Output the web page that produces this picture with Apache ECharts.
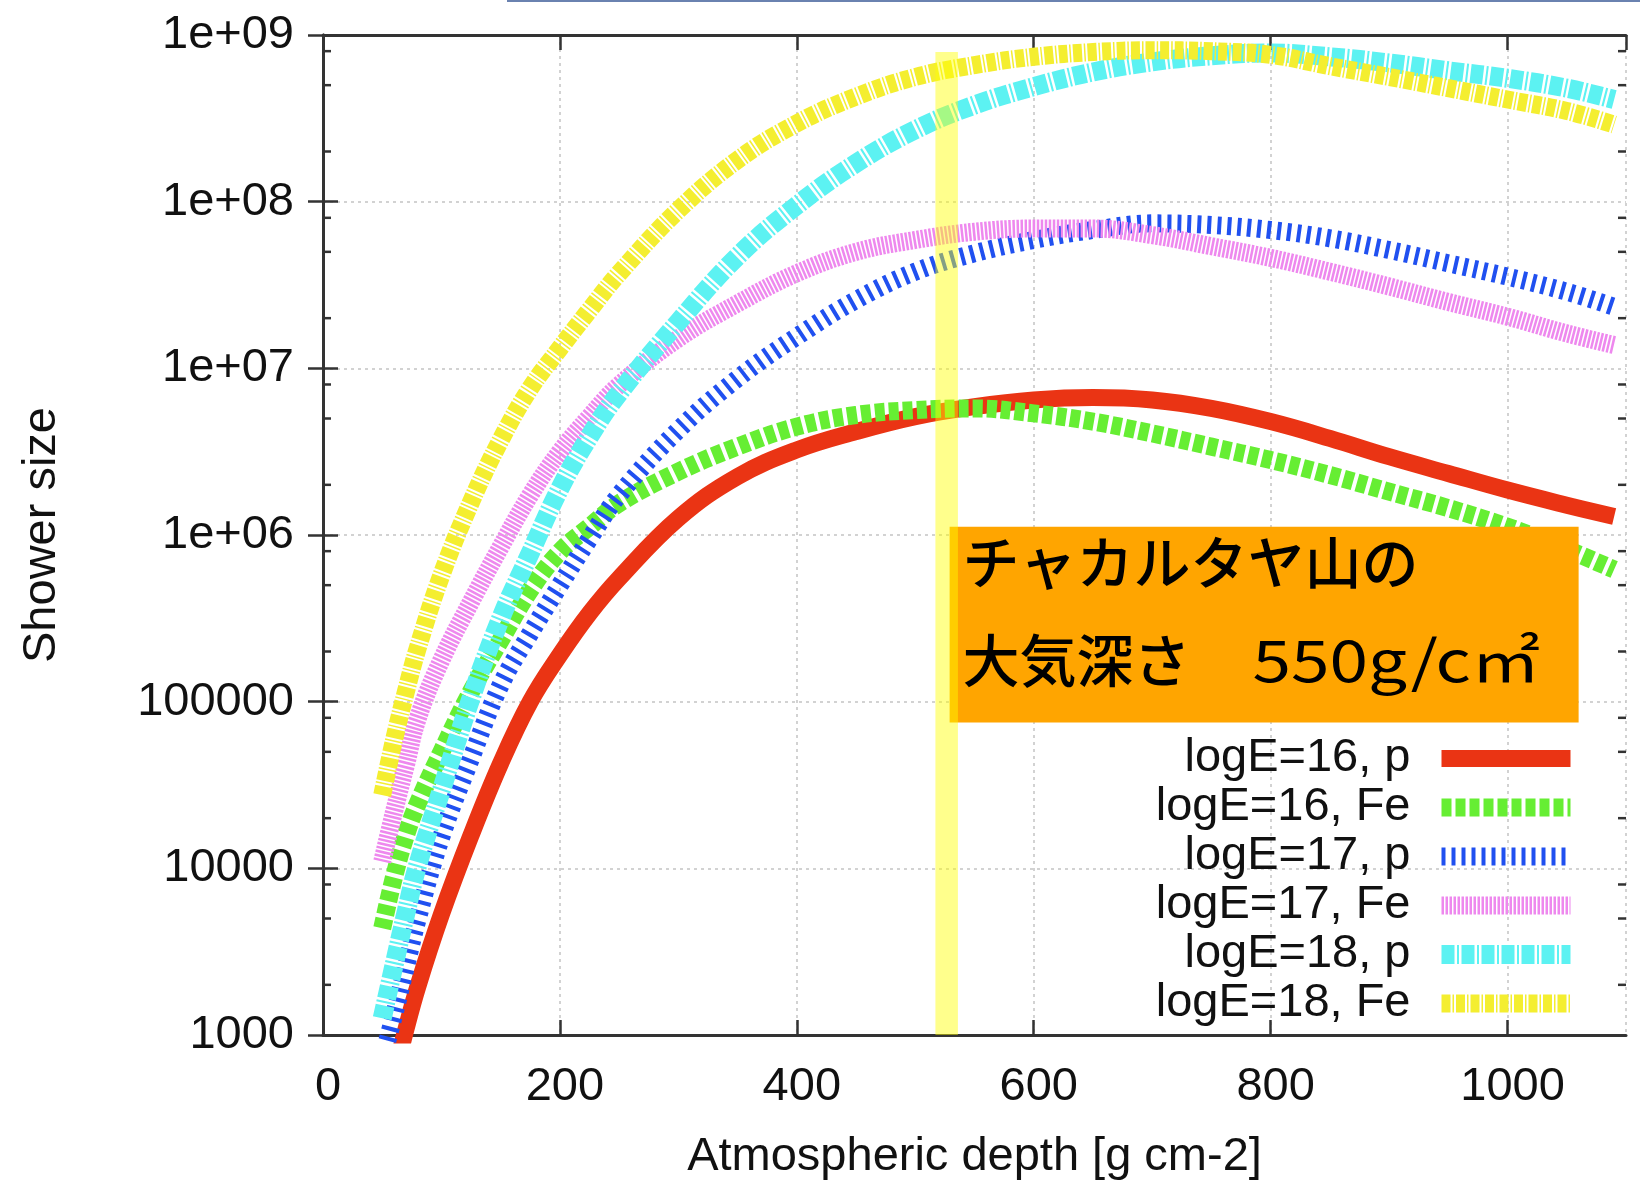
<!DOCTYPE html>
<html><head><meta charset="utf-8">
<script src="https://cdn.jsdelivr.net/npm/echarts@6/dist/echarts.min.js"></script>
<style>html,body{margin:0;padding:0;background:#fff}#chart{width:1640px;height:1189px}</style>
</head><body><div id="chart"></div>
<script>
// ---- data ----
const depth = [50,60,70,80,100,125,150,175,200,225,250,300,350,400,450,500,550,600,650,700,750,800,850,900,950,1000,1050,1090];
const e16p  = [2.8e2,5.6e2,1.08e3,1.95e3,5.3e3,1.58e4,4.27e4,1.0e5,1.91e5,3.39e5,5.5e5,1.26e6,2.24e6,3.24e6,4.17e6,5.13e6,5.89e6,6.46e6,6.68e6,6.46e6,5.75e6,4.79e6,3.8e6,2.95e6,2.34e6,1.86e6,1.51e6,1.29e6];
const e16fe = [4.37e3,8.9e3,1.58e4,2.45e4,5.0e4,1.15e5,2.34e5,4.68e5,7.94e5,1.12e6,1.55e6,2.4e6,3.39e6,4.47e6,5.25e6,5.62e6,5.75e6,5.37e6,4.79e6,4.07e6,3.39e6,2.82e6,2.29e6,1.82e6,1.45e6,1.12e6,8.2e5,6.2e5];
const e17p  = [7.1e2,1.32e3,2.57e3,5.0e3,1.55e4,4.57e4,1.26e5,2.57e5,5.0e5,9.5e5,1.74e6,4.27e6,8.7e6,1.55e7,2.57e7,3.8e7,4.9e7,5.89e7,6.76e7,7.41e7,7.24e7,6.76e7,6.03e7,5.13e7,4.27e7,3.55e7,2.88e7,2.34e7];
const e17fe = [1.1e4,2.19e4,4.17e4,7.94e4,1.78e5,3.98e5,8.5e5,1.74e6,3.16e6,5.13e6,7.94e6,1.51e7,2.45e7,3.72e7,5.0e7,5.89e7,6.6e7,6.9e7,6.9e7,6.3e7,5.4e7,4.6e7,3.8e7,3.1e7,2.5e7,2.04e7,1.62e7,1.38e7];
const e18p  = [1.26e3,2.63e3,5.4e3,1.05e4,2.95e4,1.05e5,3.16e5,7.8e5,1.9e6,3.9e6,7.1e6,1.9e7,4.7e7,9.5e7,1.7e8,2.7e8,3.8e8,4.9e8,6.0e8,6.9e8,7.5e8,7.8e8,7.4e8,6.8e8,6.1e8,5.5e8,4.8e8,4.1e8];
const e18fe = [2.75e4,5.9e4,1.15e5,2.1e5,5.75e5,1.58e6,3.72e6,7.6e6,1.32e7,2.24e7,3.72e7,8.9e7,1.78e8,2.95e8,4.27e8,5.6e8,6.6e8,7.4e8,7.9e8,8.1e8,8.0e8,7.6e8,6.5e8,5.6e8,4.8e8,4.1e8,3.5e8,2.9e8];
const seriesNames = ['logE=16, p','logE=16, Fe','logE=17, p','logE=17, Fe','logE=18, p','logE=18, Fe'];
const seriesValues = [e16p, e16fe, e17p, e17fe, e18p, e18fe];
const xTickLabels = ['0','200','400','600','800','1000'];
const yTickLabels = ['1000','10000','100000','1e+06','1e+07','1e+08','1e+09'];
const yMinorTicks = [2e3,5e3,8e3,2e4,5e4,8e4,2e5,5e5,8e5,2e6,5e6,8e6,2e7,5e7,8e7,2e8,5e8,8e8];
const bandRange = [517, 7.9e8, 536, 1000];
const noteRange = [529, 1.12e6, 1060, 7.5e4];
const noteLine1 = 'チャカルタヤ山の';
const noteLine2a = '大気深さ';
const noteLine2b = '550g/c㎡';
const xName = 'Atmospheric depth [g cm-2]';
const yName = 'Shower size';

// ---- styles ----
const LATIN = 'Liberation Sans';
const CJK = 'Noto Sans CJK JP';
const styles = [
  {color:'#ea3414', width:17, type:'solid'},
  {color:'#66ee33', width:18, type:[10,4]},
  {color:'#2050f0', width:18, type:[4,6]},
  {color:'#ee88ee', width:18, type:[2.5,1.5]},
  {color:'#5cf2f2', width:19, type:[13,2.5,2,2.5]},
  {color:'#f4ee30', width:18, type:[9,2,1.5,2]}
];
const axisColor = '#333';
const XMIN = 0, XMAX = 1100;

const lineSeries = seriesNames.map((name, k) => ({
  name, type:'line', symbol:'none', smooth:0.4, z:2,
  data: depth.map((x, i) => [x, seriesValues[k][i]]),
  lineStyle: {color:styles[k].color, width:styles[k].width, type:styles[k].type, cap:'butt', join:'round'},
  itemStyle: {color:styles[k].color},
  emphasis: {disabled:true}
}));

// stretch factor for the Latin part of note line 2
const NOTE_WEIGHT = 500;
const mctx = document.createElement('canvas').getContext('2d');
mctx.font = NOTE_WEIGHT + ' 57px "' + CJK + '"';
const latinScale = 292 / mctx.measureText(noteLine2b).width;

const noteSeries = {
  type:'custom', name:'note', z:5, silent:true, clip:false,
  data:[noteRange], encode:{x:[0,2], y:[1,3]},
  renderItem(params, api) {
    const p0 = api.coord([api.value(0), api.value(1)]);
    const p1 = api.coord([api.value(2), api.value(3)]);
    const L = p0[0], T = p0[1];
    const ts = {fontSize:57, fontFamily:CJK, fontWeight:NOTE_WEIGHT, fill:'#000', align:'left', verticalAlign:'middle'};
    return {type:'group', children:[
      {type:'rect', shape:{x:L, y:T, width:p1[0]-L, height:p1[1]-T}, style:{fill:'#ffa500'}},
      {type:'text', x:L+13, y:T+36, style:Object.assign({text:noteLine1}, ts)},
      {type:'text', x:L+13, y:T+134, style:Object.assign({text:noteLine2a}, ts)},
      {type:'text', x:L+303, y:T+134, scaleX:latinScale, style:Object.assign({text:noteLine2b}, ts, {fontWeight:400})}
    ]};
  }
};

const bandSeries = {
  type:'custom', name:'band', z:6, silent:true, clip:false,
  data:[bandRange], encode:{x:[0,2], y:[1,3]},
  renderItem(params, api) {
    const p0 = api.coord([api.value(0), api.value(1)]);
    const p1 = api.coord([api.value(2), api.value(3)]);
    return {type:'rect', shape:{x:p0[0], y:p0[1], width:p1[0]-p0[0], height:p1[1]-p0[1]}, style:{fill:'rgba(255,255,0,0.45)'}};
  }
};

const minorTickSeries = {
  type:'custom', name:'minor', z:7, silent:true, clip:false,
  data: yMinorTicks.map(v => [XMIN, v]), encode:{x:0, y:1},
  renderItem(params, api) {
    const v = api.value(1);
    const a = api.coord([XMIN, v]);
    const b = api.coord([XMAX, v]);
    const st = {stroke:axisColor, lineWidth:2.5};
    return {type:'group', children:[
      {type:'line', shape:{x1:a[0], y1:a[1], x2:a[0]+8, y2:a[1]}, style:st},
      {type:'line', shape:{x1:b[0], y1:b[1], x2:b[0]-8, y2:b[1]}, style:st}
    ]};
  }
};

const axisLineStyle = {show:true, lineStyle:{color:axisColor, width:3}};
const tickStyle = {show:true, inside:true, length:15, lineStyle:{color:axisColor, width:2.5}};
const gridLine = {show:true, lineStyle:{color:'#c4c4c4', width:1.5, type:[3,4]}};
const labelFont = {fontSize:47, fontFamily:LATIN, color:'#111'};

const chart = echarts.init(document.getElementById('chart'), null, {renderer:'canvas'});
chart.setOption({
  animation:false,
  backgroundColor:'#fff',
  grid:{left:323, right:14, top:35, bottom:154},
  graphic:[{type:'rect', left:507, top:0, shape:{width:1133, height:2}, style:{fill:'#6a82b0'}}],
  xAxis:[
    {type:'value', min:XMIN, max:XMAX, interval:200, position:'bottom',
     axisLine:axisLineStyle, axisTick:tickStyle, splitLine:gridLine,
     axisLabel:Object.assign({margin:29, padding:[0,0,0,10], showMaxLabel:false, formatter:v => xTickLabels[Math.round(v/200)] || ''}, labelFont),
     name:xName, nameLocation:'middle', nameGap:99, nameTextStyle:labelFont},
    {type:'value', min:XMIN, max:XMAX, interval:200, position:'top',
     axisLine:axisLineStyle, axisTick:tickStyle, splitLine:{show:false}, axisLabel:{show:false}}
  ],
  yAxis:[
    {type:'log', logBase:10, min:1000, max:1e9, position:'left',
     axisLine:axisLineStyle, axisTick:tickStyle, splitLine:gridLine, minorTick:{show:false},
     axisLabel:Object.assign({margin:29, padding:[8,0,0,0], formatter:v => yTickLabels[Math.round(Math.log10(v)) - 3] || ''}, labelFont),
     name:yName, nameLocation:'middle', nameGap:257, nameTextStyle:labelFont},
    {type:'log', logBase:10, min:1000, max:1e9, position:'right',
     axisLine:axisLineStyle, axisTick:tickStyle, splitLine:{show:false}, axisLabel:{show:false}}
  ],
  legend:{
    data:seriesNames, orient:'vertical', right:55, top:730, align:'right',
    itemWidth:129, itemHeight:18, itemGap:2, selectedMode:false,
    textStyle:{fontSize:47, fontFamily:LATIN, color:'#111', lineHeight:46, padding:[0,26,0,0]},
    lineStyle:{width:'inherit'}, itemStyle:{opacity:0}
  },
  series:[...lineSeries, noteSeries, bandSeries, minorTickSeries]
});
</script></body></html>
